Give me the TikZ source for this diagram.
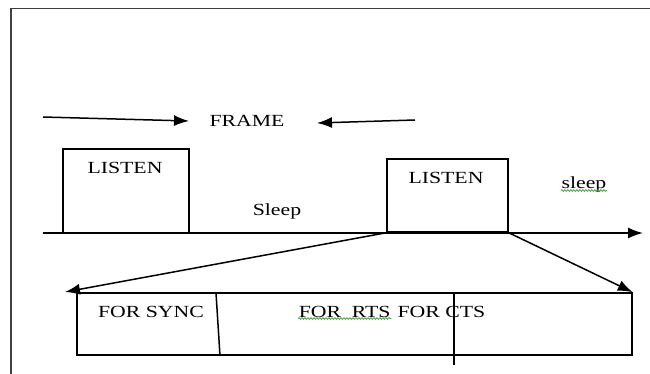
\documentclass[tikz,border=0pt]{standalone}
\usepackage{fontspec}
\setmainfont[FakeStretch=1.28]{Liberation Serif}
\usepackage{xcolor}
\usetikzlibrary{arrows.meta,positioning,decorations.pathmorphing}
\definecolor{colorFrame}{HTML}{404040}
\definecolor{colorSpell}{HTML}{3CA03C}

\begin{document}
\begin{tikzpicture}[x=1pt,y=-1pt,line width=1.5pt,>={Latex[length=15pt,width=11pt]},box/.style={draw, rectangle, inner sep=0pt},lbl/.style={inner sep=0pt, anchor=base, font=\fontsize{17}{20}\selectfont},spell/.style={draw=colorSpell, line width=0.7pt, decorate, decoration={snake, amplitude=0.9pt, segment length=3pt}},]
    \useasboundingbox (0,0) rectangle (650,374);
    \coordinate (pageB) at (11,374);
    \coordinate (pageTL) at (11,8.5);
    \coordinate (pageR) at (650,8.5);
    \draw[colorFrame, line width=1.6pt] (pageB) -- (pageTL) -- (pageR);
    \node [lbl] (frame) at (247,127) {FRAME};
    \coordinate (frameL) at (43,117);
    \coordinate (frameLtip) at (189,121);
    \coordinate (frameR) at (415,120);
    \coordinate (frameRtip) at (317,123);
    \path[->] (frameL) edge (frameLtip);
    \path[->] (frameR) edge (frameRtip);
    \node [box, minimum width=126pt, minimum height=84pt] (boxA) at (126,191) {};
    \node [box, minimum width=121pt, minimum height=73pt] (boxB) at (447.5,195.5) {};
    \node [lbl] (listenA) at (125,174) {LISTEN};
    \node [lbl] (listenB) at (446,183) {LISTEN};
    \node [lbl] (sleepA) at (277,215) {Sleep};
    \node [lbl] (sleepB) at (584,189) {sleep};
    \draw[spell] ([yshift=-1.5pt]sleepB.base west) -- ([yshift=-1.5pt]sleepB.base east);
    \coordinate (time0) at (43,233);
    \coordinate (time1) at (643,233);
    \path[->] (time0) edge (time1);
    \node [box, minimum width=555pt, minimum height=62pt] (slot) at (354.5,324) {};
    \coordinate (zoomL) at (65,292);
    \path[->] (boxB.south west) edge (zoomL);
    \path[->] (boxB.south east) edge (slot.north east);
    \coordinate (cutA) at (216,293);
    \coordinate (cutA2) at (220,356);
    \coordinate (cutB) at (454,293);
    \coordinate (cutB2) at (454,365);
    \draw (cutA) -- (cutA2);
    \draw (cutB) -- (cutB2);
    \node [lbl] (sync) at (151,317) {FOR SYNC};
    \node [lbl, anchor=base west] (rts) at (298,317) {FOR~~RTS};
    \node [lbl, anchor=base west] (cts) at (rts.base east) {~FOR CTS};
    \draw[spell] ([yshift=-1.5pt]rts.base west) -- ([yshift=-1.5pt]rts.base east);
\end{tikzpicture}
\end{document}
